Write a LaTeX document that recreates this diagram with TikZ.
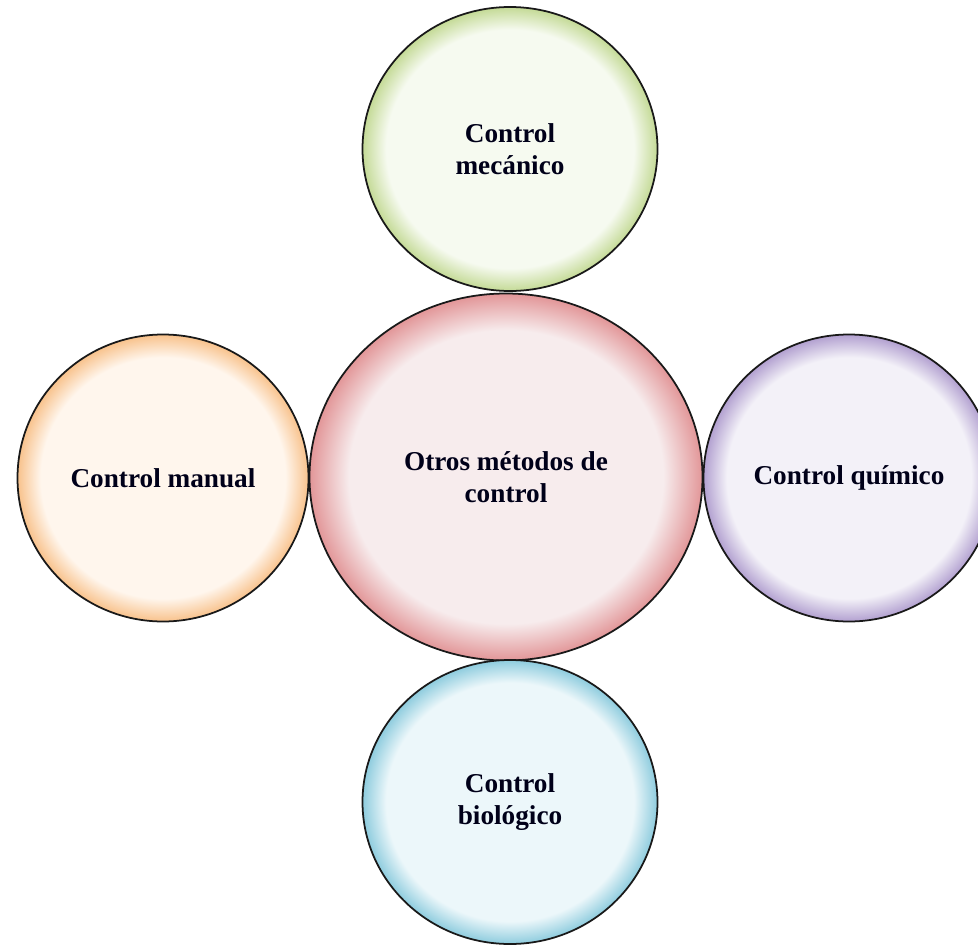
\documentclass[tikz,border=0pt]{standalone}
\usepackage{fontspec}
\setmainfont{Liberation Serif}
\usetikzlibrary{shapes.geometric}

\definecolor{rosapal}{RGB}{247,236,237}
\definecolor{rosa}{RGB}{226,150,152}
\definecolor{verdepal}{RGB}{246,250,240}
\definecolor{verde}{RGB}{196,218,150}
\definecolor{naranjapal}{RGB}{255,246,237}
\definecolor{naranja}{RGB}{248,194,140}
\definecolor{moradopal}{RGB}{243,241,248}
\definecolor{morado}{RGB}{178,160,208}
\definecolor{azulpal}{RGB}{236,247,250}
\definecolor{azul}{RGB}{142,204,222}

\pgfdeclareradialshading{brillorosa}{\pgfpoint{0bp}{0bp}}{color(0bp)=(rosapal); color(20bp)=(rosapal); color(25bp)=(rosa); color(50bp)=(rosa)}
\pgfdeclareradialshading{brilloverde}{\pgfpoint{0bp}{0bp}}{color(0bp)=(verdepal); color(21bp)=(verdepal); color(25bp)=(verde); color(50bp)=(verde)}
\pgfdeclareradialshading{brillonaranja}{\pgfpoint{0bp}{0bp}}{color(0bp)=(naranjapal); color(21bp)=(naranjapal); color(25bp)=(naranja); color(50bp)=(naranja)}
\pgfdeclareradialshading{brillomorado}{\pgfpoint{0bp}{0bp}}{color(0bp)=(moradopal); color(21bp)=(moradopal); color(25bp)=(morado); color(50bp)=(morado)}
\pgfdeclareradialshading{brilloazul}{\pgfpoint{0bp}{0bp}}{color(0bp)=(azulpal); color(21bp)=(azulpal); color(25bp)=(azul); color(50bp)=(azul)}

\begin{document}
\begin{tikzpicture}[x=0.2mm,y=-0.2mm]
	\tikzstyle{metodo} = [ellipse,draw=black!90,line width=1pt,inner sep=0pt,align=center,
		minimum width=59mm,minimum height=56.8mm,text=black!90!blue,
		font=\fontsize{15.5}{18}\selectfont\bfseries]
	
	\useasboundingbox (0,0) rectangle (978,945);
	
	\node[metodo,shading=brillorosa,minimum width=78.6mm,minimum height=73.4mm] (otros) at (506,477) {Otros métodos de\\control};
	\node[metodo,shading=brilloverde] (mec) at (510,149) {Control\\mecánico};
	\node[metodo,shading=brillonaranja,minimum width=58.2mm,minimum height=57.4mm] (man) at (163,478) {Control manual};
	\node[metodo,shading=brillomorado,minimum width=58.2mm,minimum height=57.4mm] (qui) at (849,478) {Control químico};
	\node[metodo,shading=brilloazul] (bio) at (510,802) {Control\\biológico};
\end{tikzpicture}
\end{document}
